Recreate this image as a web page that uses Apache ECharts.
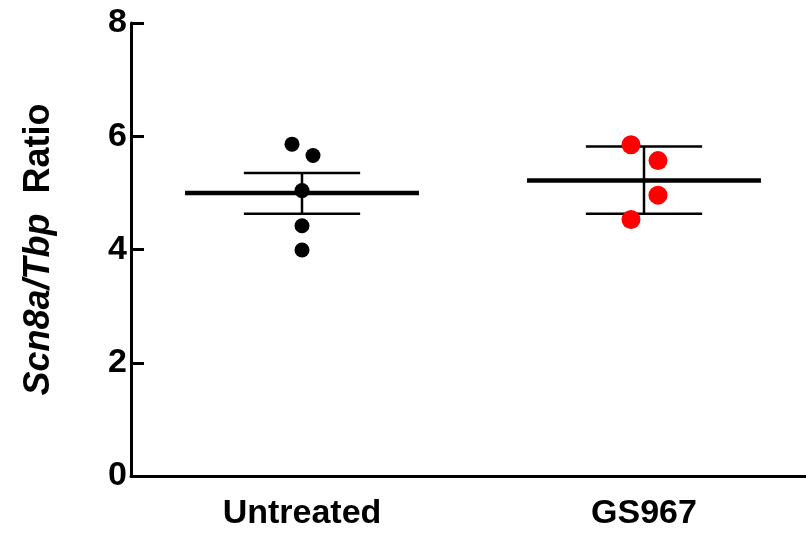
<!DOCTYPE html>
<html><head><meta charset="utf-8">
<script src="https://cdn.jsdelivr.net/npm/echarts@6/dist/echarts.min.js"></script>
<style>html,body{margin:0;padding:0;background:#fff}#c{width:806px;height:533px}</style>
</head><body><div id="c"></div>
<script>
const categories = ['Untreated', 'GS967'];
const untreatedValues = [5.86, 5.66, 5.04, 4.42, 3.99];
const gs967Values = [5.85, 5.57, 4.96, 4.53];
const means = [5.00, 5.22];
const errUpper = [5.35, 5.82];
const errLower = [4.63, 4.63];
const yTickLabels = ['0', '2', '4', '6', '8'];
// horizontal pixel jitter of the dots (layout only)
const untreatedJitter = [-10, 11, 0, 0, 0];
const gs967Jitter = [-13, 14, 14, -13];

const FONT = '"Liberation Sans", Arial, sans-serif';
const chart = echarts.init(document.getElementById('c'), null, {renderer: 'canvas'});

const summaryData = categories.map((c, i) => [i, means[i], errLower[i], errUpper[i]]);

chart.setOption({
  animation: false,
  backgroundColor: '#fff',
  grid: {left: 131, top: 23, width: 684, height: 453, containLabel: false, outerBoundsMode: 'none'},
  xAxis: {
    type: 'category', data: categories, boundaryGap: true,
    axisLine: {lineStyle: {color: '#000', width: 3}},
    axisTick: {show: false},
    axisLabel: {color: '#000', fontFamily: FONT, fontWeight: 'bold', fontSize: 34, margin: 21}
  },
  yAxis: {
    type: 'value', min: 0, max: 8, interval: 2,
    name: '{i|Scn8a/Tbp}{n|  Ratio}',
    nameLocation: 'middle', nameRotate: 90, nameGap: 74,
    nameTextStyle: {
      rich: {
        i: {fontFamily: FONT, fontWeight: 'bold', fontStyle: 'italic', fontSize: 36, color: '#000'},
        n: {fontFamily: FONT, fontWeight: 'bold', fontSize: 36, color: '#000'}
      }
    },
    axisLine: {show: true, lineStyle: {color: '#000', width: 3}},
    axisTick: {show: true, inside: true, length: 13, lineStyle: {color: '#000', width: 3}},
    splitLine: {show: false},
    axisLabel: {color: '#000', fontFamily: FONT, fontWeight: 'bold', fontSize: 34, margin: 4,
      formatter: (v) => yTickLabels[yTickLabels.indexOf(String(v))] || String(v)}
  },
  series: [
    {
      type: 'custom', z: 2,
      data: summaryData,
      renderItem: function (params, api) {
        const x = api.value(0);
        const c = api.coord([x, api.value(1)]);
        const lo = api.coord([x, api.value(2)]);
        const hi = api.coord([x, api.value(3)]);
        const bw = api.size([1, 0])[0];
        const mh = bw * 0.342, ch = bw * 0.17;
        const st = {stroke: '#000', lineWidth: 2.5};
        return {type: 'group', children: [
          {type: 'line', shape: {x1: c[0], y1: hi[1], x2: c[0], y2: lo[1]}, style: st},
          {type: 'line', shape: {x1: c[0] - ch, y1: hi[1], x2: c[0] + ch, y2: hi[1]}, style: st},
          {type: 'line', shape: {x1: c[0] - ch, y1: lo[1], x2: c[0] + ch, y2: lo[1]}, style: st},
          {type: 'line', shape: {x1: c[0] - mh, y1: c[1], x2: c[0] + mh, y2: c[1]}, style: {stroke: '#000', lineWidth: 4.5}}
        ]};
      }
    },
    {
      type: 'scatter', z: 3, symbol: 'circle', symbolSize: 15,
      itemStyle: {color: '#000', opacity: 1},
      data: untreatedValues.map((v, i) => ({value: [categories[0], v], symbolOffset: [untreatedJitter[i], 0]}))
    },
    {
      type: 'scatter', z: 3, symbol: 'circle', symbolSize: 19,
      itemStyle: {color: '#ff0000', opacity: 1},
      data: gs967Values.map((v, i) => ({value: [categories[1], v], symbolOffset: [gs967Jitter[i], 0]}))
    }
  ]
});
</script></body></html>
